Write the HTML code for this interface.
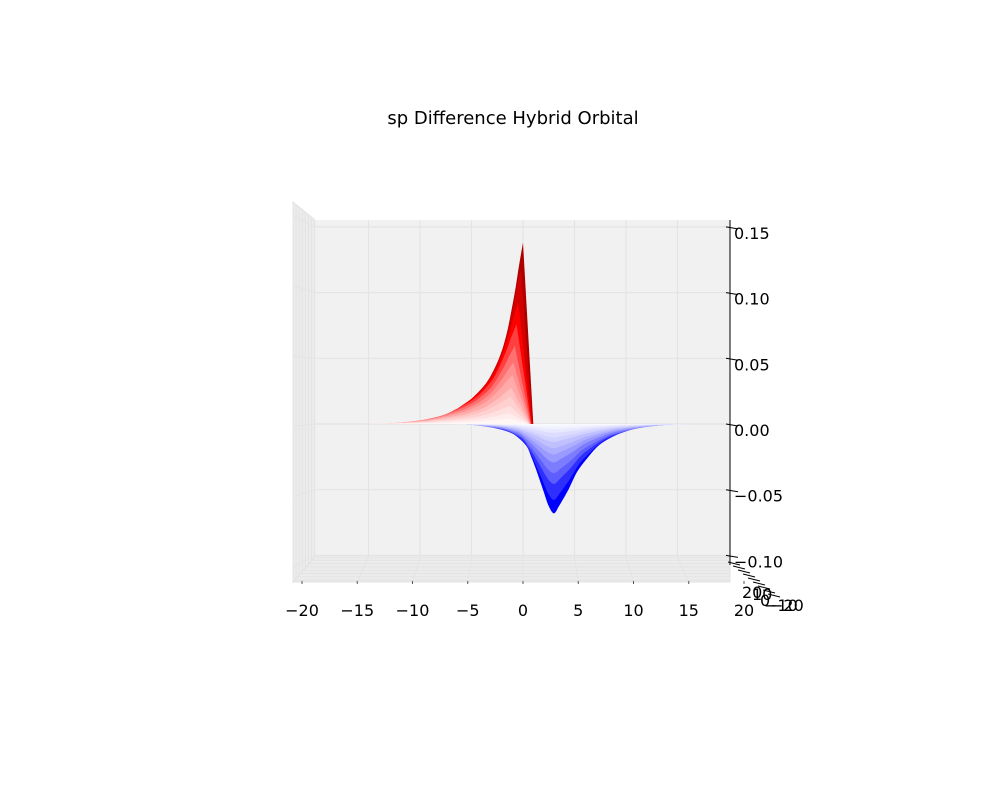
<!DOCTYPE html>
<html><head><meta charset="utf-8"><style>
body{margin:0;background:#fff}
svg{display:block;font-family:"DejaVu Sans","Liberation Sans",sans-serif}
</style></head><body>
<svg id="c" width="1000" height="800" viewBox="0 0 1000 800">
<text x="513" y="124" font-size="18" text-anchor="middle" fill="#000">sp Difference Hybrid Orbital</text>
</svg>
<script>
// data
const redX=[-11,-9,-7,-5.8,-4,-2.9,-2,-1,-0.5,0];
const redZ=[0,0.005,0.012,0.02,0.035,0.05,0.068,0.10,0.12,0.138];
const blueX=[-5,-4,-2,-1,0,0.5,1,1.8,2.4,3,3.6,4.6,5.6,6.8,8,9.4,11,12.6,14];
const blueZ=[0,-0.002,-0.006,-0.01,-0.017,-0.025,-0.034,-0.05,-0.062,-0.068,-0.062,-0.05,-0.036,-0.025,-0.016,-0.01,-0.005,-0.002,0];
const sliceFactors=[1,0.85,0.67,0.55,0.43,0.34,0.27,0.2,0.15,0.1,0.06,0.03];
const zTicks=[0.15,0.10,0.05,0.00,-0.05,-0.10];
const xTicks=[-20,-15,-10,-5,0,5,10,15,20];

const svg=document.getElementById('c');
const NS='http://www.w3.org/2000/svg';
function el(t,a,p){const e=document.createElementNS(NS,t);for(const k in a)e.setAttribute(k,a[k]);(p||svg).appendChild(e);return e;}
const X=x=>523+10.3*x;
const XF=x=>523+11.05*x;
const Z=z=>424-1314*z;

let sp=el('polygon',{points:'293,202 315,220 315,557 293,582',fill:'#ececec',stroke:'#e2e2e2'});


let bp=el('rect',{x:315,y:220,width:415,height:337,fill:'#f1f1f1'});


let fl=el('polygon',{points:'315,557 730,557 730,582 293,582',fill:'#ececec',stroke:'#e2e2e2'});


for(let i=1;i<8;i++){const y=557+i*3.3;const l=el('line',{x1:315-i*2.8,y1:y,x2:730,y2:y,stroke:'#e3e3e3'});

}
for(let i=0;i<8;i++){const xx=293+i*3.1;const l=el('line',{x1:xx,y1:202+i*2.5,x2:xx,y2:582-i*3.5,stroke:'#e3e3e3'});

}
xTicks.forEach(t=>{if(t>-20&&t<20){const l=el('line',{x1:X(t),y1:220,x2:X(t),y2:557,stroke:'#e4e4e4','stroke-width':1.2});


const f=el('line',{x1:X(t),y1:557,x2:XF(t),y2:582,stroke:'#e4e4e4'});

}});
zTicks.forEach(t=>{const y=Z(t);const l=el('line',{x1:315,y1:y,x2:730,y2:y,stroke:'#e4e4e4','stroke-width':1.2});


const s=el('line',{x1:293,y1:y+(y-390)*0.07,x2:315,y2:y,stroke:'#e4e4e4'});

});

function redCol(f){
 if(f>=0.67){const r=Math.round(255-(f-0.67)/0.33*80);return `rgb(${r},0,0)`;}
 const g=Math.round(255*Math.pow(1-f/0.67,0.8));return `rgb(255,${g},${g})`;}
function blueCol(f){const g=Math.round(255*Math.pow(1-f,0.9));return `rgb(${g},${g},255)`;}
function smooth(pts){let d='M'+pts[0][0]+','+pts[0][1];for(let i=0;i<pts.length-1;i++){const p0=pts[Math.max(0,i-1)],p1=pts[i],p2=pts[i+1],p3=pts[Math.min(pts.length-1,i+2)];
 d+=` C${p1[0]+(p2[0]-p0[0])/6},${p1[1]+(p2[1]-p0[1])/6} ${p2[0]-(p3[0]-p1[0])/6},${p2[1]-(p3[1]-p1[1])/6} ${p2[0]},${p2[1]}`;}return d;}
const surf=el('g',{});


sliceFactors.forEach(f=>{
  const sh=-(1-f)*1.4;
  const w=0.8+0.5*(1-f);
  const pts=redX.map((x,i)=>[X(x*w+sh),Z(redZ[i]*f)]);
  const d=smooth(pts)+` L${X(1.0+sh*0.3)},${Z(0)} Z`;
  const p=el('path',{d:d,fill:redCol(f)},surf);
  
  
});
sliceFactors.forEach(f=>{
  const w=0.88+0.4*(1-f);
  const pts=blueX.map((x,i)=>[X(3+(x-3)*w),Z(blueZ[i]*f)]);
  const p=el('path',{d:smooth(pts)+' Z',fill:blueCol(f)},surf);
  
  
});

const za=el('line',{x1:730,y1:220,x2:730,y2:565,stroke:'#000'});


zTicks.forEach(t=>{const y=Z(t);
 const tk=el('line',{x1:726,y1:y,x2:738,y2:y+2,stroke:'#000'});
 
 
 const tx=el('text',{x:734,y:y+12,'font-size':16});
 tx.textContent=(t<0?'\u2212':'')+Math.abs(t).toFixed(2);
 
 });
xTicks.forEach(t=>{
 const d=el('line',{x1:XF(t),y1:581,x2:XF(t),y2:584,stroke:'#555'});
 
 
 const tx=el('text',{x:XF(t),y:616,'font-size':16,'text-anchor':'middle'});
 tx.textContent=(t<0?'\u2212':'')+Math.abs(t);
 
 });
for(let i=0;i<9;i++){const l=el('line',{x1:728+i*5,y1:562+i*4,x2:740+i*5,y2:565+i*4,stroke:'#000'});

}
[['20',742,598],['10',752,600],['0',760,606],['\u221210',764,611],['\u221220',770,611]].forEach(a=>{
 const tx=el('text',{x:a[1],y:a[2],'font-size':16});tx.textContent=a[0];
 
 });
</script>
</body></html>
